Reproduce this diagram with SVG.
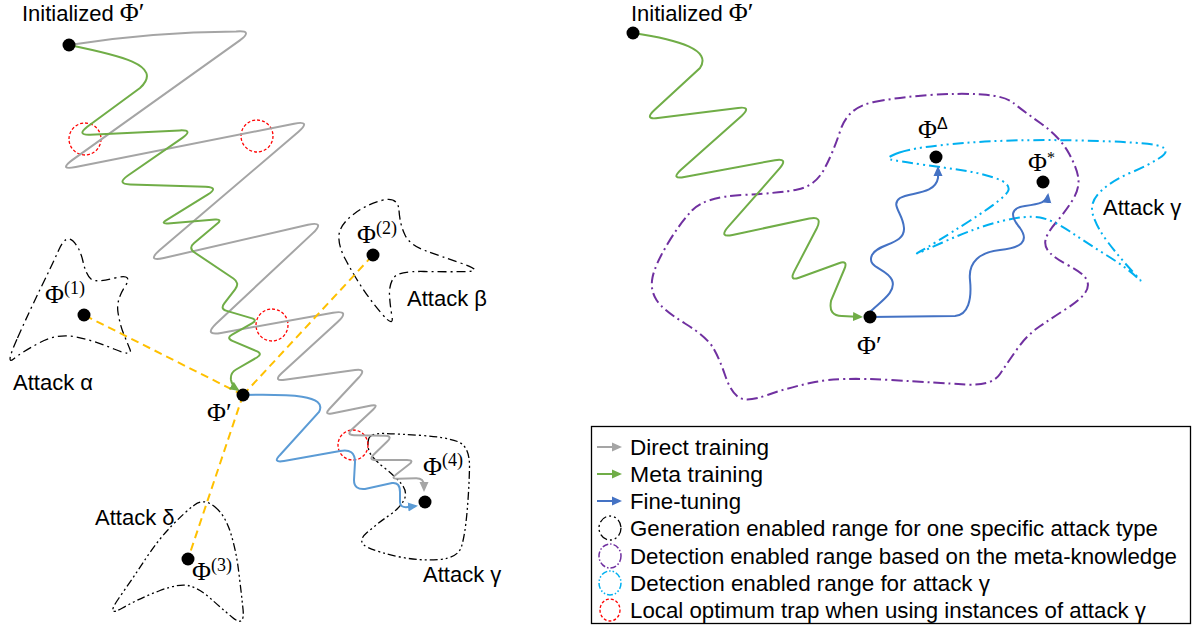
<svg xmlns="http://www.w3.org/2000/svg" width="1196" height="630" viewBox="0 0 1196 630">
<style>
.lbl{font-family:"Liberation Sans",Arial,sans-serif;font-size:22px;fill:#000}
.phi{font-family:"Liberation Serif","DejaVu Serif",serif;font-size:26px;fill:#000}
.dot{fill:#000}
.gray{stroke:#A5A5A5;stroke-width:2;fill:none}
.green{stroke:#70AD47;stroke-width:2;fill:none}
.blueL{stroke:#5B9BD5;stroke-width:2;fill:none}
.blueR{stroke:#4472C4;stroke-width:2;fill:none}
.yel{stroke:#FFC000;stroke-width:2;stroke-dasharray:8 5;fill:none}
.trap{stroke:#FF0000;stroke-width:1.3;stroke-dasharray:3 2;fill:none}
.gen1{stroke:#000;stroke-width:1.3;stroke-dasharray:9 4 2 4;fill:none}
.gen2{stroke:#000;stroke-width:1.3;stroke-dasharray:8 3 2 3 2 3;fill:none}
.purp{stroke:#7030A0;stroke-width:2;stroke-dasharray:11 4 2 4;fill:none}
.cyan{stroke:#00B0F0;stroke-width:2;stroke-dasharray:11 4 2 4 2 4;fill:none}
</style>
<defs>
<marker id="ahGray" viewBox="0 0 10 10" refX="8" refY="5" markerWidth="10" markerHeight="10" markerUnits="userSpaceOnUse" orient="auto"><path d="M0,0.5 L10,5 L0,9.5 z" fill="#A5A5A5"/></marker>
<marker id="ahGreen" viewBox="0 0 10 10" refX="8" refY="5" markerWidth="10" markerHeight="10" markerUnits="userSpaceOnUse" orient="auto"><path d="M0,0.5 L10,5 L0,9.5 z" fill="#70AD47"/></marker>
<marker id="ahBlueL" viewBox="0 0 10 10" refX="8" refY="5" markerWidth="10" markerHeight="10" markerUnits="userSpaceOnUse" orient="auto"><path d="M0,0.5 L10,5 L0,9.5 z" fill="#5B9BD5"/></marker>
<marker id="ahBlueR" viewBox="0 0 10 10" refX="8" refY="5" markerWidth="10" markerHeight="10" markerUnits="userSpaceOnUse" orient="auto"><path d="M0,0.5 L10,5 L0,9.5 z" fill="#4472C4"/></marker>
</defs>
<rect width="1196" height="630" fill="#fff"/>

<!-- regions left -->
<g id="region-alpha"><path class="gen1" d="M17.5,338 Q30,310 41,287.5 Q52,265 59,249.5 Q66,234 73,241 Q80,248 83,261.5 Q86,275 91,279 Q96,283 115,278 Q134,273 125,286.5 Q116,300 118,312.5 Q120,325 123.5,333.5 Q127,342 130,349.5 Q133,357 114,349 Q95,341 76.5,337 Q58,333 40,342.5 Q22,352 13.5,359 Q5,366 17.5,338 Z"/></g>
<g id="region-beta"><path class="gen1" d="M399,210.5 Q400,225 405,235 Q410,245 425,250.5 Q440,256 462,263.5 Q484,271 467,271.5 Q450,272 424,271.5 Q398,271 393.5,278 Q389,285 389.5,295 Q390,305 392,316.5 Q394,328 382,314 Q370,300 361,286 Q352,272 345,258.5 Q338,245 339,235 Q340,225 352.5,215 Q365,205 381.5,200.5 Q398,196 399,210.5 Z"/></g>
<g id="region-delta"><path class="gen2" d="M214.5,506.5 Q225,515 230.5,532.5 Q236,550 238.5,570 Q241,590 243,609 Q245,628 232.5,617.5 Q220,607 210,598 Q200,589 190,586 Q180,583 160,590.5 Q140,598 122.5,608 Q105,618 119,598 Q133,578 145.5,559 Q158,540 171.5,526 Q185,512 194.5,505 Q204,498 214.5,506.5 Z"/></g>
<g id="region-gamma-left"><path class="gen2" d="M368.5,439.5 Q370,433 385,433.5 Q400,434 422.5,435.5 Q445,437 457.5,441.5 Q470,446 469.5,468 Q469,490 467,512.5 Q465,535 461.5,546.5 Q458,558 439,559.5 Q420,561 400,557 Q380,553 368,547.5 Q356,542 367,532.5 Q378,523 389,515.5 Q400,508 404,500 Q408,492 401.5,484 Q395,476 383.5,467 Q372,458 369.5,452 Q367,446 368.5,439.5 Z"/></g>

<!-- regions right -->
<g id="region-meta"><path class="purp" d="M874,102 Q900,97 930,95 Q960,93 982.5,94.5 Q1005,96 1013.5,103 Q1022,110 1041,123.5 Q1060,137 1069,153.5 Q1078,170 1078.5,180 Q1079,190 1072,201 Q1065,212 1056,222.5 Q1047,233 1045.5,240 Q1044,247 1050,253 Q1056,259 1069.5,266 Q1083,273 1086.5,279.5 Q1090,286 1085,293 Q1080,300 1066,309 Q1052,318 1039.5,326.5 Q1027,335 1017.5,348.5 Q1008,362 1000,374 Q992,386 966,384.5 Q940,383 890,380 Q840,377 815,382 Q790,387 767.5,395 Q745,403 737.5,396.5 Q730,390 725,375 Q720,360 713.5,348.5 Q707,337 685,323.5 Q663,310 656.5,300 Q650,290 652.5,277.5 Q655,265 667.5,244 Q680,223 692.5,210 Q705,197 742.5,195 Q780,193 797.5,189.5 Q815,186 824,169.5 Q833,153 840.5,130 Q848,107 874,102 Z"/></g>
<g id="region-gamma-right"><path class="cyan" d="M899.5,152.5 Q915,147 964,143 Q1013,139 1080,140.5 Q1147,142 1159.5,146 Q1172,150 1159.5,158 Q1147,166 1130,173 Q1113,180 1101,191 Q1089,202 1093,215 Q1097,228 1108.5,243 Q1120,258 1133,272 Q1146,286 1136.5,277 Q1127,268 1107,255.5 Q1087,243 1070,231.5 Q1053,220 1040,217.5 Q1027,215 1002,221 Q977,227 942.5,242.5 Q908,258 920,251.5 Q932,245 969.5,221 Q1007,197 1008.5,190 Q1010,183 995,178 Q980,173 963.5,170.5 Q947,168 922,164.5 Q897,161 890.5,159.5 Q884,158 899.5,152.5 Z"/></g>

<!-- traps -->
<g id="traps">
<circle class="trap" cx="85" cy="139" r="16"/>
<circle class="trap" cx="257" cy="136" r="16"/>
<circle class="trap" cx="272" cy="325" r="16"/>
<circle class="trap" cx="353" cy="445" r="15"/>
</g>

<!-- connectors -->
<g id="connectors">
<path class="gray" marker-end="url(#ahGray)" d="M69,45 Q150,32 236.1,31.5 Q254,30 239.5,40.6 L72.5,159.9 Q58,170.5 75.7,167 L294.1,123.7 Q311.8,120.2 298.2,132 L159.8,250.1 Q146.2,261.9 163.8,258 L308,224.8 Q325.6,220.9 312.6,233.4 L216.3,323.4 Q203.3,335.9 221,332.9 L333,312.7 Q350.7,309.7 337.6,322.1 L281.6,373.3 Q272.9,381.5 284.8,379.7 L355.1,370.1 Q367,368.3 359,377.3 L329.3,409 Q324,415 331.8,413.4 L371.2,405.6 Q379,404 373.2,409.5 L351.8,429.5 Q346,435 354,435.2 L385,435.8 Q393,436 387.2,441.5 L373.8,454.5 Q368,460 376,460 L407,460 Q415,460 408.6,464.8 L396.4,474.2 Q390,479 398,478.8 L416,478.2 Q424,478 424,486 L424,490"/>
<line class="yel" x1="243" y1="395" x2="84" y2="315"/>
<line class="yel" x1="243" y1="395" x2="373" y2="255"/>
<line class="yel" x1="243" y1="395" x2="188" y2="559"/>
<path class="green" marker-end="url(#ahGreen)" d="M69,45 C118,55 165,65 140,88 L87.3,126.7 Q76.2,135.3 90.2,134.7 L179.8,130.4 Q193.8,129.8 182.4,137.9 L127.6,175.8 Q116.2,183.9 130.2,184.5 L205.5,186.7 Q219.5,187.3 207.6,194.7 L166.8,219.8 Q160,224 168,223.4 L215,219.6 Q223,219 216.8,224.1 L194.2,242.9 Q188,248 194.6,252.5 L233.4,278.5 Q240,283 235.1,289.3 L224.3,303.4 Q220,309 226.7,310.9 L251.3,318.1 Q258,320 251.9,323.4 L232.1,334.6 Q226,338 232.4,340.8 L256.6,351.2 Q263,354 256.9,357.5 L236.1,369.5 Q230,373 231,380 Q232,386 238,390"/>
<path class="blueL" marker-end="url(#ahBlueL)" d="M243,395 C290,394 328,395 319,412 L280,455 Q272,463 284,461 L340,451 Q355,448 355,462 L354,480 Q354,490 365,489 L392,483 Q400,482 400,492 L400,502 Q400,508 408,507 L416,506"/>
<path class="green" marker-end="url(#ahGreen)" d="M633,33 C680,40 712,50 700,68 L654.2,110.3 Q644,119.9 657.9,118.1 L738.1,107.9 Q752,106.1 741.8,115.7 L680.7,169.9 Q670.5,179.5 684.3,177 L774.9,160.2 Q788.7,157.7 779.6,168.4 L727.9,227.2 Q718.8,237.9 732.5,234.9 L809.3,218.6 Q823,215.6 816.8,228.2 L793.9,272.1 Q789.5,281.1 798.9,277.7 L838.9,263.2 Q848.3,259.8 844.4,269 L831.1,300.6 Q828,316 842,316 L861,317"/>
<path class="blueR" marker-end="url(#ahBlueR)" d="M870,312 C880,302 897,292 892,280 C887,268 866,268 872,255 C878,243 905,245 904,228 C903,213 890,205 900,198 C910,192 935,195 938,178 L938,168"/>
<path class="blueR" marker-end="url(#ahBlueR)" d="M870,317 L955,316 C968,315 972,300 970,280 C968,262 980,252 1000,250 C1020,248 1030,242 1020,228 C1010,216 1010,208 1025,206 C1040,204 1047,202 1048,195"/>
</g>

<!-- nodes left -->
<g id="node-init-left"><circle class="dot" cx="69" cy="45" r="6.5"/><text class="lbl" x="22" y="21">Initialized <tspan class="phi" font-size="22">Φ′</tspan></text></g>
<g id="node-phi1"><circle class="dot" cx="84" cy="315" r="6.5"/><text class="phi" x="45" y="303">Φ<tspan font-size="18" dy="-9">(1)</tspan></text></g>
<g id="node-phi2"><circle class="dot" cx="373" cy="255" r="6.5"/><text class="phi" x="357" y="243">Φ<tspan font-size="18" dy="-9">(2)</tspan></text></g>
<g id="node-phi3"><circle class="dot" cx="188" cy="559" r="6.5"/><text class="phi" x="192" y="580">Φ<tspan font-size="18" dy="-9">(3)</tspan></text></g>
<g id="node-phi4"><circle class="dot" cx="425" cy="502" r="6.5"/><text class="phi" x="423" y="475">Φ<tspan font-size="18" dy="-9">(4)</tspan></text></g>
<g id="node-phiprime-left"><circle class="dot" cx="243" cy="395" r="6.5"/><text class="phi" x="207" y="421">Φ′</text></g>
<g id="labels-left">
<text class="lbl" x="13" y="390">Attack α</text>
<text class="lbl" x="407" y="306">Attack β</text>
<text class="lbl" x="95" y="525">Attack δ</text>
<text class="lbl" x="423" y="582">Attack γ</text>
</g>

<!-- nodes right -->
<g id="node-init-right"><circle class="dot" cx="633" cy="33" r="6.5"/><text class="lbl" x="631" y="21">Initialized <tspan class="phi" font-size="22">Φ′</tspan></text></g>
<g id="node-phiprime-right"><circle class="dot" cx="870" cy="317" r="6.5"/><text class="phi" x="857" y="354">Φ′</text></g>
<g id="node-phidelta"><circle class="dot" cx="936" cy="157" r="6.5"/><text class="phi" x="918" y="138">Φ<tspan font-size="16" dy="-9" font-family="Liberation Sans, sans-serif">Δ</tspan></text></g>
<g id="node-phistar"><circle class="dot" cx="1043" cy="182" r="6.5"/><text class="phi" x="1028" y="171">Φ<tspan font-size="16" dy="-8">*</tspan></text></g>
<text class="lbl" x="1103" y="215">Attack γ</text>

<!-- legend -->
<g id="legend">
<rect x="591.5" y="426.5" width="599" height="197" fill="none" stroke="#000" stroke-width="1.3"/>
<line x1="597" y1="447" x2="620" y2="447" stroke="#A5A5A5" stroke-width="2" marker-end="url(#ahGray)"/>
<line x1="597" y1="474" x2="620" y2="474" stroke="#70AD47" stroke-width="2" marker-end="url(#ahGreen)"/>
<line x1="597" y1="501" x2="620" y2="501" stroke="#4472C4" stroke-width="2" marker-end="url(#ahBlueR)"/>
<ellipse class="gen2" cx="610" cy="528" rx="11" ry="12"/>
<ellipse cx="610" cy="556" rx="11" ry="12" fill="none" stroke="#7030A0" stroke-width="1.5" stroke-dasharray="6 2 1.5 2"/>
<ellipse cx="610" cy="583" rx="11" ry="12" fill="none" stroke="#00B0F0" stroke-width="1.5" stroke-dasharray="6 2 1.5 2 1.5 2"/>
<ellipse class="trap" cx="610" cy="610" rx="10" ry="11"/>
<text class="lbl" x="630" y="455" textLength="139" lengthAdjust="spacingAndGlyphs">Direct training</text>
<text class="lbl" x="630" y="482" textLength="133" lengthAdjust="spacingAndGlyphs">Meta training</text>
<text class="lbl" x="630" y="509" textLength="111" lengthAdjust="spacingAndGlyphs">Fine-tuning</text>
<text class="lbl" x="630" y="536" textLength="528" lengthAdjust="spacingAndGlyphs">Generation enabled range for one specific attack type</text>
<text class="lbl" x="630" y="564" textLength="547" lengthAdjust="spacingAndGlyphs">Detection enabled range based on the meta-knowledge</text>
<text class="lbl" x="630" y="591" textLength="360" lengthAdjust="spacingAndGlyphs">Detection enabled range for attack γ</text>
<text class="lbl" x="630" y="618" textLength="516" lengthAdjust="spacingAndGlyphs">Local optimum trap when using instances of attack γ</text>
</g>
</svg>
